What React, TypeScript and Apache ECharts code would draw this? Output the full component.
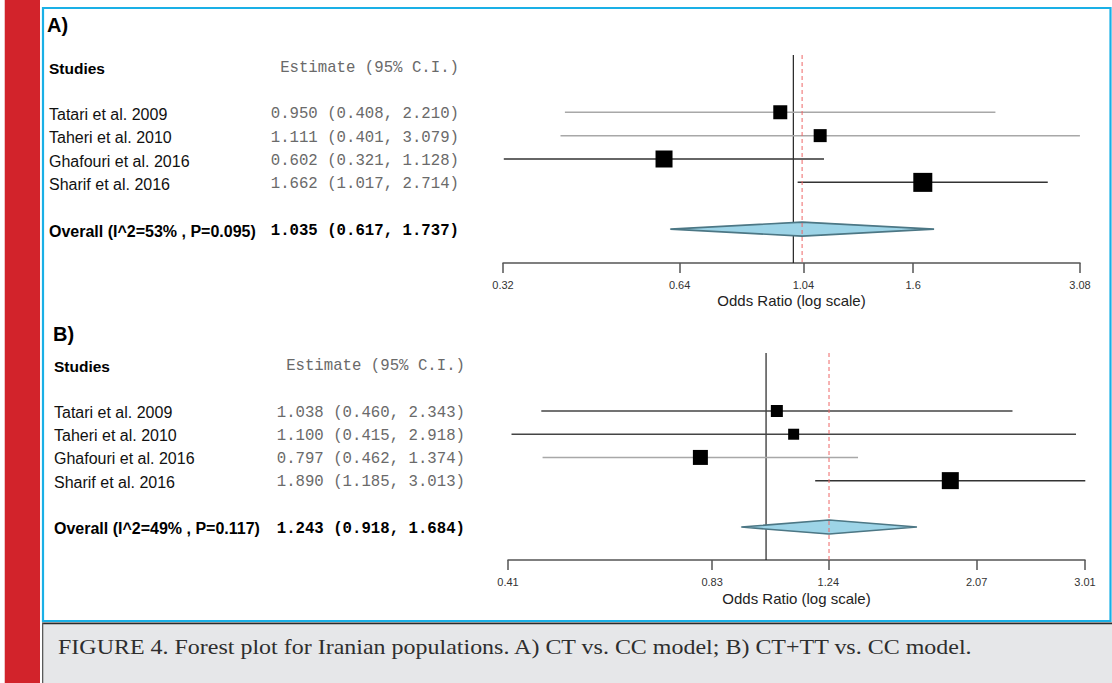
import React, { useEffect, useRef } from "react";
import * as echarts from "echarts";

// ---------- data ----------
const studies = ["Tatari et al. 2009", "Taheri et al. 2010", "Ghafouri et al. 2016", "Sharif et al. 2016"];

const estA = [0.95, 1.111, 0.602, 1.662];
const lowA = [0.408, 0.401, 0.321, 1.017];
const highA = [2.21, 3.079, 1.128, 2.714];
const overallA = [1.035, 0.617, 1.737]; // estimate, lower, upper
const overallLabelA = "Overall (I^2=53% , P=0.095)";
const ticksA = [0.32, 0.64, 1.04, 1.6, 3.08];

const estB = [1.038, 1.1, 0.797, 1.89];
const lowB = [0.46, 0.415, 0.462, 1.185];
const highB = [2.343, 2.918, 1.374, 3.013];
const overallB = [1.243, 0.918, 1.684];
const overallLabelB = "Overall (I^2=49% , P=0.117)";
const ticksB = [0.41, 0.83, 1.24, 2.07, 3.01];

const panelTitles = ["A)", "B)"];
const colStudies = "Studies";
const colEstimate = "Estimate (95% C.I.)";
const axisTitle = "Odds Ratio (log scale)";
const caption = "FIGURE 4. Forest plot for Iranian populations. A) CT vs. CC model; B) CT+TT vs. CC model.";

// ---------- styles ----------
const BOX_PX_A = [14, 13, 17, 19];
const BOX_PX_B = [12, 11, 15, 17];
const CI_COLOR_A = ["#a8a8a8", "#a8a8a8", "#333333", "#333333"];
const CI_COLOR_B = ["#444444", "#444444", "#a8a8a8", "#333333"];
const SANS = '"Liberation Sans", Arial, sans-serif';
const MONO = '"Liberation Mono", "Courier New", monospace';
const SERIF = '"Liberation Serif", "Times New Roman", serif';

const fmt = (v: number) => v.toFixed(3);
const estText = (e: number, l: number, h: number) => `${fmt(e)} (${fmt(l)}, ${fmt(h)})`;

const panels = [
  {
    est: estA, low: lowA, high: highA, overall: overallA, overallLabel: overallLabelA, ticks: ticksA,
    box: BOX_PX_A, ciColor: CI_COLOR_A, title: panelTitles[0],
    grid: { left: 503, top: 55, width: 577, height: 208 }, yMin: -1.45, yMax: 7.45,
    nameX: 49, estRight: 459, headX: 47, headY: 25, studiesY: 68, textDy: 2, nameGap: 30,
  },
  {
    est: estB, low: lowB, high: highB, overall: overallB, overallLabel: overallLabelB, ticks: ticksB,
    box: BOX_PX_B, ciColor: CI_COLOR_B, title: panelTitles[1],
    grid: { left: 508, top: 353, width: 577, height: 207 }, yMin: -1.5, yMax: 7.42,
    nameX: 54, estRight: 465, headX: 53, headY: 334, studiesY: 366, textDy: 1.5, nameGap: 31,
  },
];

const OVERALL_ROW = 6;

function rowY(p: any, r: number) {
  return p.grid.top + ((r - p.yMin) / (p.yMax - p.yMin)) * p.grid.height;
}

function txt(x: number, y: number, text: string, opts: any) {
  const align = opts.align || "left";
  return {
    type: "text",
    x,
    y,
    scaleX: opts.scaleX || 1,
    silent: true,
    style: {
      text,
      fontSize: opts.size,
      fontFamily: opts.family,
      fontWeight: opts.weight || "normal",
      fill: opts.color || "#000",
      align,
      textAlign: align,
      verticalAlign: "middle",
      textVerticalAlign: "middle",
    },
  };
}

export default function App() {
  const ref = useRef<HTMLDivElement>(null);

  useEffect(() => {
    document.body.style.margin = "0";
    document.body.style.overflow = "hidden";
    if (!ref.current) return;
    const chart = echarts.init(ref.current, null, { renderer: "svg" });

    const grids: any[] = [];
    const xAxes: any[] = [];
    const yAxes: any[] = [];
    const series: any[] = [];
    const graphics: any[] = [];

    // frame
    graphics.push(
      { type: "rect", silent: true, shape: { x: 4, y: 0, width: 1, height: 683 }, style: { fill: "#efc4c6" } },
      { type: "rect", silent: true, shape: { x: 5, y: 0, width: 35, height: 683 }, style: { fill: "#d2232b" } },
      { type: "rect", silent: true, shape: { x: 43, y: 8, width: 1067.5, height: 613 }, style: { fill: "none", stroke: "#1ab0e6", lineWidth: 2.2 } },
      { type: "rect", silent: true, shape: { x: 42, y: 623, width: 1070, height: 60 }, style: { fill: "#e6e7e9" } },
      { type: "rect", silent: true, shape: { x: 42, y: 622.5, width: 1070, height: 1.8 }, style: { fill: "#2b2b2b" } },
      { type: "rect", silent: true, shape: { x: 42, y: 623, width: 1.3, height: 60 }, style: { fill: "#5a5a5a" } },
      txt(58, 647, caption, { size: 21, family: SERIF, color: "#2e2e2e", scaleX: 1.142 })
    );

    panels.forEach((p, k) => {
      grids.push({ ...p.grid, outerBoundsMode: "none", containLabel: false });
      const lnTicks = p.ticks.map((t) => Math.log(t));
      xAxes.push({
        gridIndex: k,
        type: "value",
        min: lnTicks[0],
        max: lnTicks[lnTicks.length - 1],
        axisLine: { show: true, onZero: false, lineStyle: { color: "#555", width: 1.5 } },
        axisTick: { show: true, inside: false, length: 10, customValues: lnTicks, lineStyle: { color: "#555", width: 1.5 } },
        axisLabel: {
          show: true,
          customValues: lnTicks,
          margin: 16,
          fontSize: 11,
          fontFamily: SANS,
          color: "#333",
          formatter: (v: number) => {
            let best = 0;
            lnTicks.forEach((t, i) => { if (Math.abs(t - v) < Math.abs(lnTicks[best] - v)) best = i; });
            return String(p.ticks[best]);
          },
        },
        splitLine: { show: false },
        name: axisTitle,
        nameLocation: "middle",
        nameGap: p.nameGap,
        nameTextStyle: { fontSize: 15, fontFamily: SANS, color: "#222" },
      });
      yAxes.push({ gridIndex: k, type: "value", min: p.yMin, max: p.yMax, inverse: true, show: false });

      // reference line: null (OR = 1)
      series.push({
        type: "custom",
        xAxisIndex: k,
        yAxisIndex: k,
        z: 1,
        silent: true,
        data: [[Math.log(1)]],
        encode: { x: 0 },
        renderItem: (params: any, api: any) => {
          const x = api.value(0);
          const a = api.coord([x, p.yMin]);
          const b = api.coord([x, p.yMax]);
          return {
            type: "line",
            shape: { x1: a[0], y1: a[1], x2: b[0], y2: b[1] },
            style: { stroke: "#222", lineWidth: 1.2 },
          };
        },
      });

      // study CIs and boxes
      series.push({
        type: "custom",
        xAxisIndex: k,
        yAxisIndex: k,
        z: 2,
        silent: true,
        data: p.est.map((e, i) => [Math.log(p.low[i]), Math.log(p.high[i]), Math.log(e), i + 1]),
        encode: { x: [0, 1, 2], y: 3 },
        renderItem: (params: any, api: any) => {
          const i = params.dataIndex;
          const y = api.value(3);
          const a = api.coord([api.value(0), y]);
          const b = api.coord([api.value(1), y]);
          const c = api.coord([api.value(2), y]);
          const s = p.box[i];
          return {
            type: "group",
            children: [
              { type: "line", shape: { x1: a[0], y1: a[1], x2: b[0], y2: b[1] }, style: { stroke: p.ciColor[i], lineWidth: 1.5 } },
              { type: "rect", shape: { x: c[0] - s / 2, y: c[1] - s / 2, width: s, height: s }, style: { fill: "#000" } },
            ],
          };
        },
      });

      // overall diamond
      series.push({
        type: "custom",
        xAxisIndex: k,
        yAxisIndex: k,
        z: 3,
        silent: true,
        data: [[Math.log(p.overall[1]), Math.log(p.overall[2]), Math.log(p.overall[0]), OVERALL_ROW]],
        encode: { x: [0, 1, 2], y: 3 },
        renderItem: (params: any, api: any) => {
          const y = api.value(3);
          const l = api.coord([api.value(0), y]);
          const r = api.coord([api.value(1), y]);
          const c = api.coord([api.value(2), y]);
          const h = 7;
          return {
            type: "group",
            children: [
              {
                type: "polygon",
                shape: { points: [[l[0] - 2, l[1]], [c[0], c[1] - h - 0.5], [r[0] + 2, r[1]], [c[0], c[1] + h + 0.5]] },
                style: { fill: "rgba(140,140,140,0.35)" },
              },
              {
                type: "polygon",
                shape: { points: [[l[0], l[1]], [c[0], c[1] - h], [r[0], r[1]], [c[0], c[1] + h]] },
                style: { fill: "#9dd4e7", stroke: "#4c7785", lineWidth: 1.6 },
              },
            ],
          };
        },
      });

      // overall estimate (dashed)
      series.push({
        type: "custom",
        xAxisIndex: k,
        yAxisIndex: k,
        z: 4,
        silent: true,
        data: [[Math.log(p.overall[0])]],
        encode: { x: 0 },
        renderItem: (params: any, api: any) => {
          const x = api.value(0);
          const a = api.coord([x, p.yMin]);
          const b = api.coord([x, p.yMax]);
          return {
            type: "line",
            shape: { x1: a[0], y1: a[1], x2: b[0], y2: b[1] },
            style: { stroke: "#ee6a6a", lineWidth: 1.2, lineDash: [4, 3], opacity: 0.85 },
          };
        },
      });

      // text columns
      graphics.push(txt(p.headX, p.headY, p.title, { size: 20, family: SANS, weight: "bold" }));
      graphics.push(txt(p.nameX, p.studiesY, colStudies, { size: 15.5, family: SANS, weight: "bold" }));
      graphics.push(txt(p.estRight, p.studiesY, colEstimate, { size: 15.7, family: MONO, color: "#6a6a6a", align: "right" }));
      studies.forEach((s, i) => {
        const y = rowY(p, i + 1) + p.textDy;
        graphics.push(txt(p.nameX, y, s, { size: 16, family: SANS, color: "#111" }));
        graphics.push(txt(p.estRight, y, estText(p.est[i], p.low[i], p.high[i]), { size: 15.7, family: MONO, color: "#6a6a6a", align: "right" }));
      });
      const yo = rowY(p, OVERALL_ROW) + p.textDy;
      graphics.push(txt(p.nameX, yo, p.overallLabel, { size: 16, family: SANS, weight: "bold" }));
      graphics.push(txt(p.estRight, yo, estText(p.overall[0], p.overall[1], p.overall[2]), { size: 15.7, family: MONO, weight: "bold", align: "right" }));
    });

    chart.setOption({
      animation: false,
      backgroundColor: "#ffffff",
      grid: grids,
      xAxis: xAxes,
      yAxis: yAxes,
      series,
      graphic: { elements: graphics },
    });

    return () => chart.dispose();
  }, []);

  return <div ref={ref} style={{ width: 1112, height: 683 }} />;
}
